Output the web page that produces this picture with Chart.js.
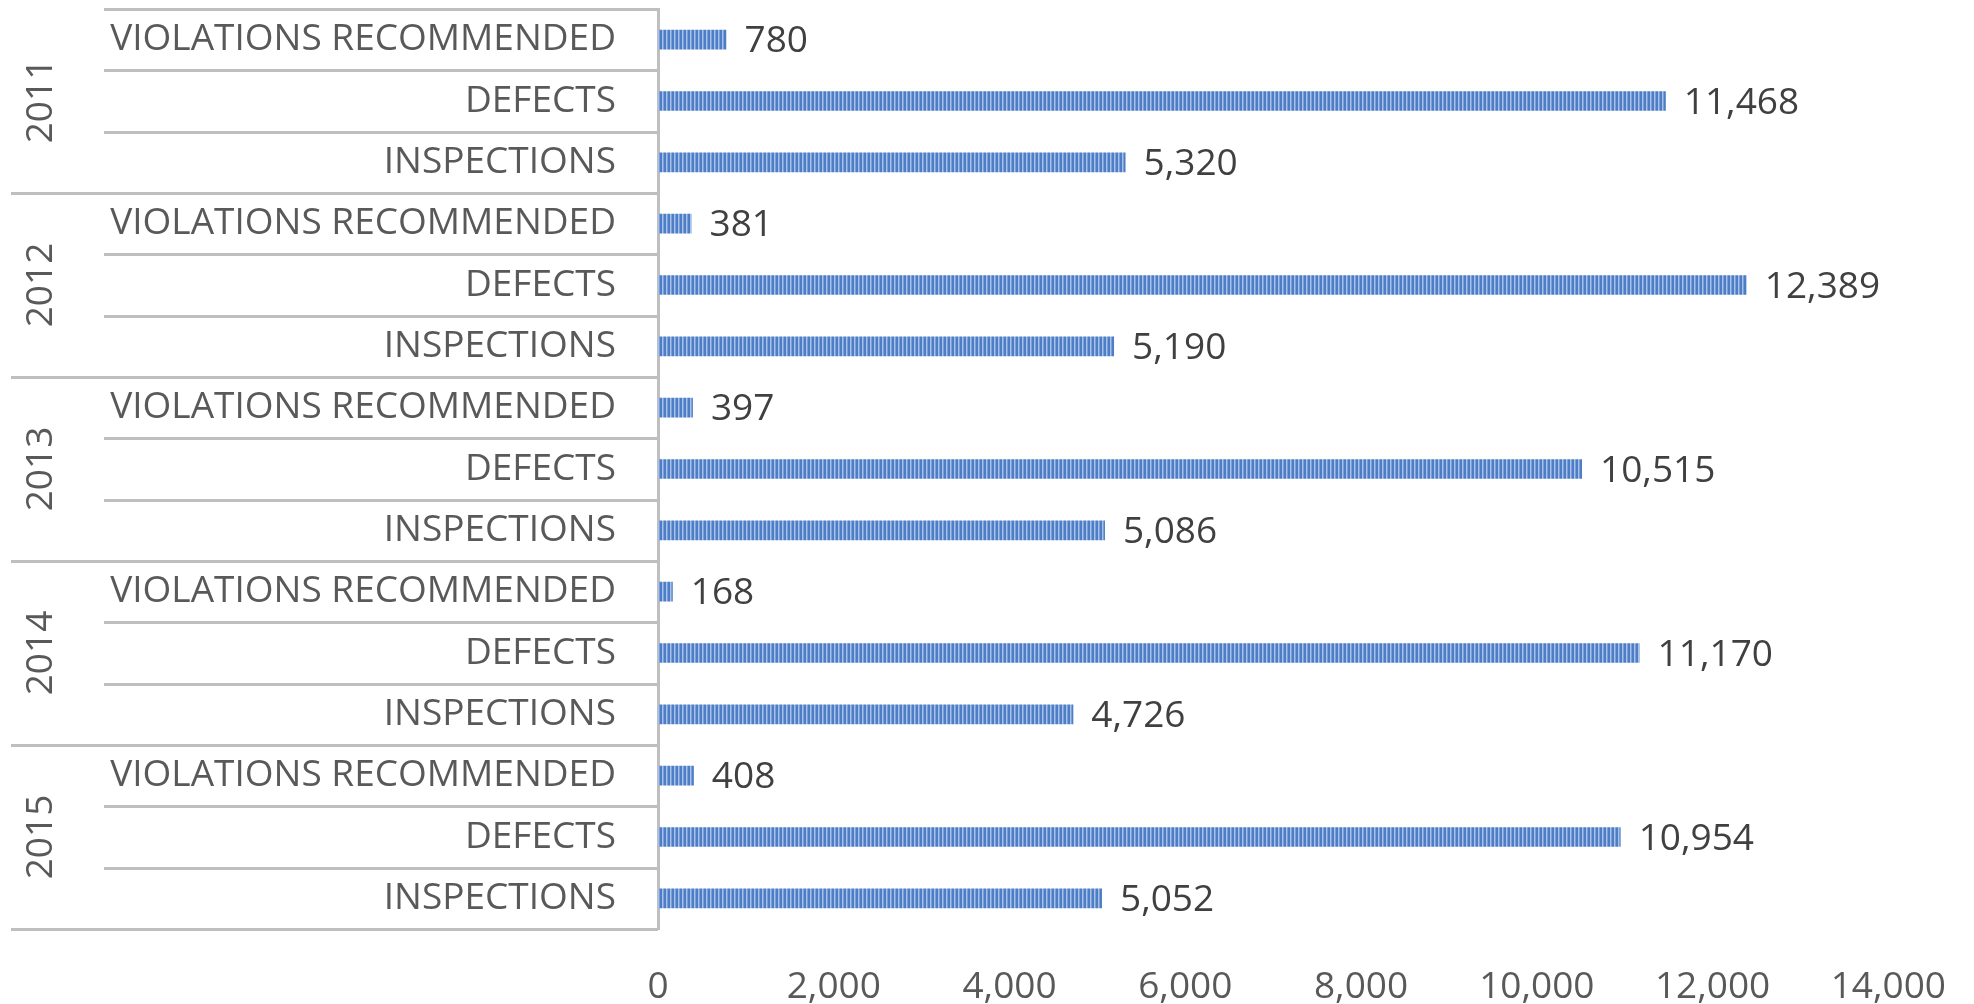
<!DOCTYPE html>
<html>
<head>
<meta charset="utf-8">
<script src="https://cdn.jsdelivr.net/npm/chart.js@4.4.1/dist/chart.umd.min.js"></script>
<style>
  html, body { margin: 0; padding: 0; background: #ffffff; }
  #wrap { width: 1974px; height: 1004px; }
</style>
</head>
<body>
<div id="wrap"><canvas id="inspectionChart"></canvas></div>
<script>
const years = ['2011', '2012', '2013', '2014', '2015'];
const metrics = ['VIOLATIONS RECOMMENDED', 'DEFECTS', 'INSPECTIONS'];
const violations = [780, 381, 397, 168, 408];
const defects = [11468, 12389, 10515, 11170, 10954];
const inspections = [5320, 5190, 5086, 4726, 5052];
const xMax = 14000;
const xStep = 2000;

// flatten into one row per (year, metric)
const labels = [];
const values = [];
years.forEach(function (yr, i) {
    labels.push(metrics[0], metrics[1], metrics[2]);
    values.push(violations[i], defects[i], inspections[i]);
});

const FONT = "'Open Sans', sans-serif";
const LINE = '#bfbfbf';

function fmt(n) {
    return String(n).replace(/\B(?=(\d{3})+(?!\d))/g, ',');
}

// vertical stripe fill for the bars
function stripePattern() {
    const c = document.createElement('canvas');
    c.width = 4; c.height = 4;
    const g = c.getContext('2d');
    g.fillStyle = '#4d7dc4'; g.fillRect(0, 0, 2, 4);
    g.fillStyle = '#a8c2e7'; g.fillRect(2, 0, 1, 4);
    g.fillStyle = '#7b9fd6'; g.fillRect(3, 0, 1, 4);
    return g.createPattern(c, 'repeat');
}

const groupAxis = {
    id: 'groupAxis',
    afterDraw(chart) {
        const ctx = chart.ctx;
        const area = chart.chartArea;
        const ys = chart.scales.y;
        const axisX = area.left;
        const n = labels.length;
        const edge = function (k) {
            if (k <= 0) return area.top;
            if (k >= n) return area.bottom;
            return (ys.getPixelForValue(k - 1) + ys.getPixelForValue(k)) / 2;
        };
        ctx.save();
        ctx.strokeStyle = LINE;
        ctx.lineWidth = 3;
        for (let k = 0; k <= n; k++) {
            const y = Math.round(edge(k)) + 0.5;
            const isGroup = k % 3 === 0 && k > 0;
            ctx.beginPath();
            ctx.moveTo(isGroup ? 11 : 104, y);
            ctx.lineTo(axisX, y);
            ctx.stroke();
        }
        // year captions, rotated
        ctx.fillStyle = '#595959';
        ctx.font = '37px ' + FONT;
        ctx.textAlign = 'center';
        ctx.textBaseline = 'middle';
        years.forEach(function (yr, i) {
            const cy = (edge(i * 3) + edge(i * 3 + 3)) / 2;
            ctx.save();
            ctx.translate(41, cy);
            ctx.rotate(-Math.PI / 2);
            ctx.fillText(yr, 0, 0);
            ctx.restore();
        });
        // value labels at bar ends
        ctx.fillStyle = '#404040';
        ctx.textAlign = 'left';
        const meta = chart.getDatasetMeta(0);
        meta.data.forEach(function (bar, i) {
            ctx.fillText(fmt(values[i]), bar.x + 18, bar.y + 2);
        });
        ctx.restore();
    }
};

const ctx = document.getElementById('inspectionChart').getContext('2d');
new Chart(ctx, {
    type: 'bar',
    data: {
        labels: labels,
        datasets: [{
            data: values,
            backgroundColor: stripePattern(),
            borderWidth: 0,
            categoryPercentage: 1,
            barPercentage: 0.32
        }]
    },
    options: {
        indexAxis: 'y',
        locale: 'en-US',
        responsive: true,
        maintainAspectRatio: false,
        animation: false,
        layout: { padding: { top: 9, right: 81, left: 0, bottom: 0 } },
        plugins: {
            legend: { display: false },
            tooltip: { enabled: false }
        },
        scales: {
            x: {
                min: 0,
                max: xMax,
                grid: { display: false },
                border: { display: false },
                ticks: {
                    stepSize: xStep,
                    padding: 28,
                    color: '#595959',
                    font: { family: FONT, size: 37 },
                    maxRotation: 0,
                    callback: function (v) { return fmt(v); }
                },
                afterFit: function (scale) { scale.height = 75; }
            },
            y: {
                grid: { display: false },
                border: { display: true, color: LINE, width: 3 },
                ticks: {
                    autoSkip: false,
                    padding: 34,
                    color: '#595959',
                    font: { family: FONT, size: 37 }
                },
                afterFit: function (scale) {
                    scale.width = 658;
                    scale.paddingTop = 0;
                    scale.paddingBottom = 0;
                }
            }
        }
    },
    plugins: [groupAxis]
});
</script>
</body>
</html>
